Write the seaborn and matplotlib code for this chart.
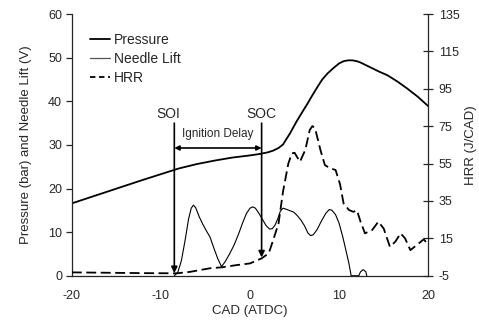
import matplotlib
matplotlib.use("Agg")
import numpy as np
import pandas as pd
import matplotlib.pyplot as plt
import seaborn as sns
from matplotlib.lines import Line2D

sns.set_style("white")
plt.rcParams["font.family"] = ["Liberation Sans", "DejaVu Sans"]
plt.rcParams["axes.unicode_minus"] = False

# cylinder pressure (bar) vs crank angle
pressure_cad = [-20, -16, -12, -10, -8, -6, -4, -2, 0, 1, 2, 2.6, 3.2, 3.7, 4.5, 5.2, 6.0, 6.4,
                7.0, 7.6, 8.1, 8.7, 9.4, 10.0, 10.5, 11.0, 11.5, 12.0, 12.4, 13.0, 13.7, 14.5,
                15.4, 16.5, 17.6, 18.8, 20]
pressure_bar = [16.6, 19.3, 22.0, 23.3, 24.6, 25.6, 26.4, 27.1, 27.6, 27.9, 28.3, 28.7, 29.3,
                30.1, 32.7, 35.3, 38.0, 39.3, 41.4, 43.4, 45.0, 46.4, 47.7, 48.7, 49.2, 49.4,
                49.4, 49.2, 48.9, 48.3, 47.6, 46.8, 46.0, 44.6, 43.0, 41.1, 38.9]

# needle lift signal (V)
needle_cad = [-8.5, -8.1, -7.7, -7.3, -6.9, -6.6, -6.35, -6.1, -5.7, -5.3, -4.9, -4.5, -4.0,
              -3.6, -3.2, -2.8, -2.3, -1.8, -1.3, -0.8, -0.4, 0.0, 0.3, 0.6, 1.0, 1.4, 1.8,
              2.2, 2.5, 2.8, 3.1, 3.4, 3.7, 4.0, 4.5, 4.9, 5.3, 5.7, 6.1, 6.5, 6.8, 7.1, 7.5,
              8.0, 8.5, 8.9, 9.2, 9.6, 10.0, 10.4, 10.8, 11.1, 11.35,
              12.2, 12.4, 12.7, 13.0, 13.1]
needle_v = [0.0, 0.8, 3.5, 8.0, 13.0, 15.5, 16.2, 15.6, 13.5, 11.8, 10.3, 8.9, 6.0,
            3.8, 2.1, 3.2, 5.0, 7.0, 9.5, 12.3, 14.3, 15.5, 15.8, 15.5, 14.3, 12.9, 11.5,
            10.7, 10.8, 11.6, 13.0, 14.8, 15.5, 15.3, 14.9, 14.6, 13.8, 12.8, 11.5, 9.8, 9.2,
            9.4, 10.5, 12.5, 14.3, 15.2, 15.0, 14.0, 12.0, 9.0, 5.5, 2.8, 0.0,
            0.0, 0.9, 1.4, 0.9, 0.0]

# heat release rate (J/CAD)
hrr_cad = [-20, -16, -12, -8.2, -6.7, -4.5, -3.2, -1.5, 0, 1.3, 2.1, 2.6, 3.2, 3.7, 4.3, 4.7,
           5.0, 5.6, 6.2, 6.7, 7.0, 7.3, 7.9, 8.4, 9.0, 9.6, 10.1, 10.5, 11.1, 11.6, 12.0,
           12.4, 12.9, 13.7, 14.4, 15.0, 15.7, 16.3, 16.9, 17.4, 18.0, 18.7, 19.5, 20.0]
hrr_j = [-3.2, -3.4, -3.6, -3.7, -2.9, -1.0, -0.5, 0.7, 1.6, 4.3, 7.0, 14.1, 23.0, 40.0, 55.1, 60.5,
         60.8, 56.0, 62.3, 73.0, 75.1, 73.9, 62.3, 54.2, 52.5, 51.6, 44.0, 33.7, 30.2, 29.2, 30.0,
         24.0, 17.7, 19.4, 23.9, 20.3, 10.5, 13.2, 17.7, 15.0, 8.7, 11.4, 14.5, 11.5]

soi_cad = -8.5
soc_cad = 1.3

df_p = pd.DataFrame({"cad": pressure_cad, "val": pressure_bar})
df_n = pd.DataFrame({"cad": needle_cad, "val": needle_v})
df_h = pd.DataFrame({"cad": hrr_cad, "val": hrr_j})

fig = plt.figure(figsize=(4.79, 3.21), dpi=100)
ax = fig.add_axes([0.150, 0.141, 0.744, 0.815])
ax2 = ax.twinx()

sns.lineplot(data=df_p, x="cad", y="val", ax=ax, color="black", lw=1.3, sort=False)
sns.lineplot(data=df_n, x="cad", y="val", ax=ax, color="black", lw=0.8, sort=False)
sns.lineplot(data=df_h, x="cad", y="val", ax=ax2, color="black", lw=1.3,
             linestyle=(0, (5.5, 2.5)), sort=False)

ax.set_xlim(-20, 20)
ax.set_ylim(0, 60)
ax2.set_ylim(-5, 135)
ax.set_xticks(np.arange(-20, 21, 10))
ax.set_yticks(np.arange(0, 61, 10))
ax2.set_yticks(np.arange(-5, 136, 20))

for a in (ax, ax2):
    a.spines["top"].set_visible(False)
    for s in a.spines.values():
        s.set_linewidth(0.9)
ax.spines["right"].set_visible(False)
ax2.spines["left"].set_visible(False)
ax2.spines["bottom"].set_visible(False)

ax.tick_params(axis="y", direction="out", length=4, width=0.9, labelsize=9, pad=3)
ax.tick_params(axis="x", direction="inout", length=7, width=0.9, labelsize=9, pad=7)
ax2.tick_params(axis="y", direction="inout", length=7, width=0.9, labelsize=9, pad=4)

ax.set_xlabel("CAD (ATDC)", fontsize=9.5, labelpad=2)
ax.set_ylabel("Pressure (bar) and Needle Lift (V)", fontsize=9.5)
ax2.set_ylabel("HRR (J/CAD)", fontsize=9.5)
ax.yaxis.set_label_coords(-0.112, 0.5)
ax2.yaxis.set_label_coords(1.104, 0.5)

# SOI / SOC markers and ignition delay
arrow = dict(arrowstyle="-|>", color="black", lw=1.2, shrinkA=0, shrinkB=0,
             mutation_scale=9)
ax.annotate("", xy=(soi_cad, 0.6), xytext=(soi_cad, 35), arrowprops=arrow)
ax.annotate("", xy=(soc_cad, 4.2), xytext=(soc_cad, 35), arrowprops=arrow)
ax.annotate("", xy=(soi_cad, 29.3), xytext=(soc_cad, 29.3),
            arrowprops=dict(arrowstyle="<|-|>", color="black", lw=1.2, shrinkA=0,
                            shrinkB=0, mutation_scale=7))
ax.text(soi_cad - 0.7, 37, "SOI", ha="center", va="center", fontsize=10)
ax.text(soc_cad, 37, "SOC", ha="center", va="center", fontsize=10)
ax.text((soi_cad + soc_cad) / 2, 32.6, "Ignition Delay", ha="center", va="center", fontsize=8.5)

handles = [
    Line2D([], [], color="black", lw=1.3),
    Line2D([], [], color="#555555", lw=0.9),
    Line2D([], [], color="black", lw=1.3, linestyle=(0, (3, 2))),
]
ax2.legend(handles, ["Pressure", "Needle Lift", "HRR"], loc="upper left",
           bbox_to_anchor=(0.035, 0.948), frameon=False, fontsize=10,
           handlelength=1.45, handletextpad=0.3, labelspacing=0.35, borderaxespad=0)

fig.savefig("out.png", dpi=100)
